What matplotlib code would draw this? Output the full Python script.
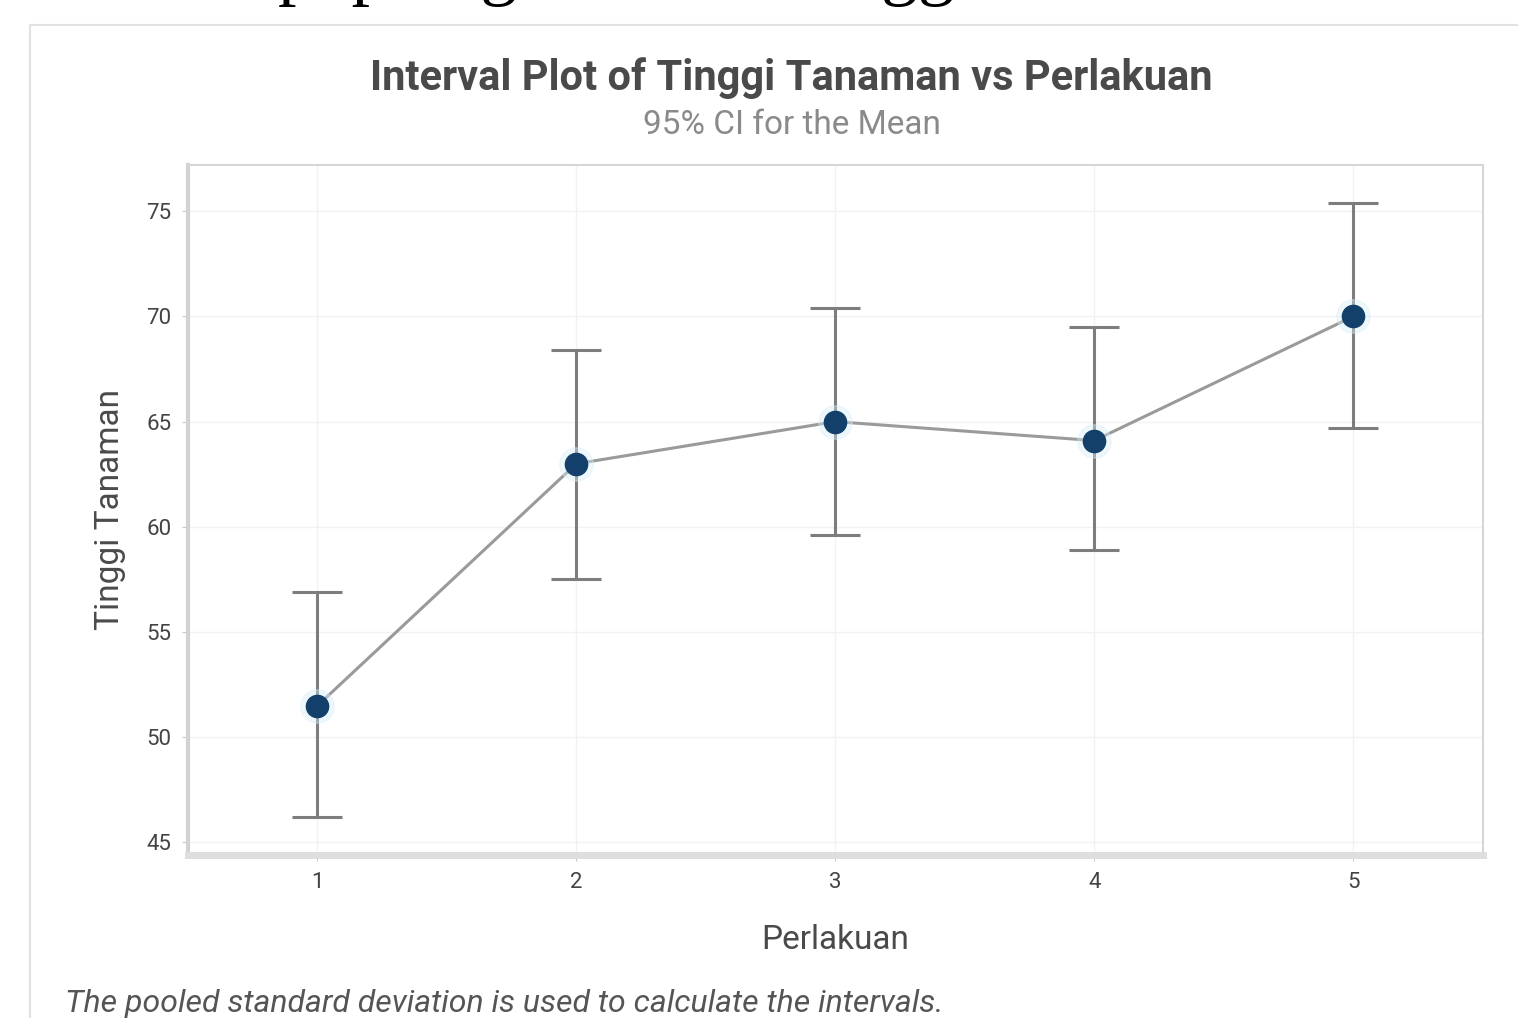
import numpy as np
import matplotlib
matplotlib.use("Agg")
import matplotlib.pyplot as plt
from matplotlib.patches import Rectangle

# Data: mean tinggi tanaman per perlakuan with 95% CI (pooled SD)
perlakuan = [1, 2, 3, 4, 5]
mean_tinggi = [51.5, 63.0, 65.0, 64.1, 70.0]
ci_low = [46.2, 57.5, 59.6, 58.9, 64.7]
ci_high = [56.9, 68.4, 70.4, 69.5, 75.4]
y_ticks = [45, 50, 55, 60, 65, 70, 75]

plt.rcParams['font.family'] = ['Roboto', 'DejaVu Sans']

fig = plt.figure(figsize=(15.18, 10.18), dpi=100)
fig.patch.set_facecolor('white')

# cropped document line above the chart (only descenders visible)
fig.text(-0.036, 1.009, 'Pemberian pupuk guano dan tinggi tanaman', family='Liberation Serif',
         fontsize=53, color='black', ha='left', va='baseline')

# outer chart window border
fig.add_artist(Rectangle((30 / 1518, -0.05), 1.1, 1 - 25 / 1018 + 0.05, transform=fig.transFigure,
                         facecolor='white', edgecolor='#e2e2e2', linewidth=1.5, zorder=-1))

ax = fig.add_axes([0.1238, 0.160, 0.853, 0.678])

x = np.array(perlakuan)
m = np.array(mean_tinggi)
lo = m - np.array(ci_low)
hi = np.array(ci_high) - m

ax.plot(x, m, color='#9a9a9a', lw=2.2, zorder=2)
ax.errorbar(x, m, yerr=[lo, hi], fmt='none', ecolor='#7d7d7d', elinewidth=2.2,
            capsize=18, capthick=2.2, zorder=3)
ax.plot(x, m, 'o', ms=24, color='#d6eef9', alpha=0.4, zorder=4)
ax.plot(x, m, 'o', ms=16, color='#13406b', zorder=5)

ax.set_xlim(0.5, 5.5)
ax.set_ylim(44.4, 77.2)
ax.set_xticks(perlakuan)
ax.set_yticks(y_ticks)
ax.tick_params(axis='both', labelsize=16, colors='#444444', length=4, color='#c8c8c8', pad=8)
ax.grid(True, color='#f2f2f2', lw=1)
ax.set_axisbelow(True)

for side in ['top', 'right']:
    ax.spines[side].set_color('#d6d6d6')
    ax.spines[side].set_linewidth(1.5)
ax.spines['bottom'].set_color('#dedede')
ax.spines['bottom'].set_linewidth(5)
ax.spines['left'].set_color('#d2d2d2')
ax.spines['left'].set_linewidth(3)

fig.text(0.521, 0.923, 'Interval Plot of Tinggi Tanaman vs Perlakuan', ha='center', va='center',
         fontsize=30, fontweight='bold', color='#4a4a4a')
fig.text(0.522, 0.877, '95% CI for the Mean', ha='center', va='center',
         fontsize=24, color='#8a8a8a')
fig.text(0.55, 0.0766, 'Perlakuan', ha='center', va='center', fontsize=24, color='#4a4a4a')
fig.text(0.0725, 0.50, 'Tinggi Tanaman', ha='center', va='center', rotation=90,
         fontsize=24, color='#4a4a4a')
fig.text(0.043, 0.0147, 'The pooled standard deviation is used to calculate the intervals.',
         ha='left', va='center', fontsize=23, style='italic', color='#555555')

fig.savefig('out.png', dpi=100)
